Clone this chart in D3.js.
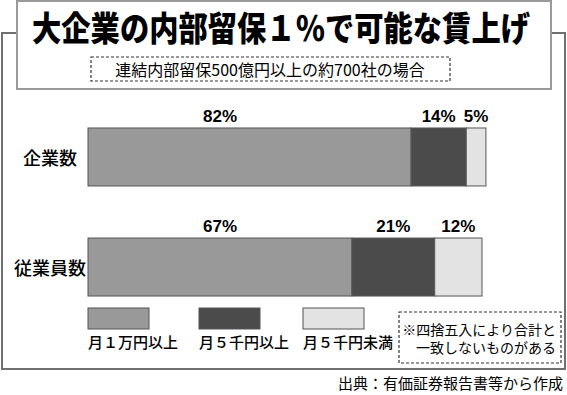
<!DOCTYPE html>
<html>
<head>
<meta charset="utf-8">
<script src="https://cdn.jsdelivr.net/npm/d3@7"></script>
<style>
  body { margin: 0; background: #fff; }
  svg { display: block; }
</style>
</head>
<body>
<svg width="567" height="395"></svg>
<script>
  // data
  var categories = ["企業数", "従業員数"];
  var seriesNames = ["月１万円以上", "月５千円以上", "月５千円未満"];
  var over10k = [82, 67];
  var over5k = [14, 21];
  var under5k = [5, 12];

  var title = "大企業の内部留保１％で可能な賃上げ";
  var subtitle = "連結内部留保500億円以上の約700社の場合";
  var noteLines = ["※四捨五入により合計と", "一致しないものがある"];
  var source = "出典：有価証券報告書等から作成";

  var colors = ["#999999", "#4b4b4b", "#e3e3e3"];
  var jp = "'Noto Sans CJK JP', 'Noto Sans', sans-serif";

  var svg = d3.select("svg");

  var rows = categories.map(function (c, i) {
    return { cat: c, vals: [over10k[i], over5k[i], under5k[i]] };
  });

  var x = d3.scaleLinear().domain([0, 100]).range([88, 482]);
  var y = d3
    .scaleBand()
    .domain(categories)
    .range([102, 322])
    .paddingInner(0.473)
    .paddingOuter(0.236);

  // outer frame
  svg
    .append("rect")
    .attr("x", 2)
    .attr("y", 33)
    .attr("width", 563)
    .attr("height", 336)
    .attr("fill", "none")
    .attr("stroke", "#707070")
    .attr("stroke-width", 2);

  // title box
  svg
    .append("rect")
    .attr("x", 17)
    .attr("y", 1)
    .attr("width", 534)
    .attr("height", 88)
    .attr("fill", "#fff")
    .attr("stroke", "#9a9a9a")
    .attr("stroke-width", 2);

  svg
    .append("text")
    .attr("x", 32)
    .attr("y", 41)
    .attr("textLength", 498)
    .attr("lengthAdjust", "spacingAndGlyphs")
    .style("font-family", jp)
    .style("font-weight", 900)
    .style("font-size", "34px")
    .text(title);

  svg
    .append("rect")
    .attr("x", 91)
    .attr("y", 57)
    .attr("width", 359)
    .attr("height", 24)
    .attr("fill", "none")
    .attr("stroke", "#333")
    .attr("stroke-width", 1.2)
    .attr("stroke-dasharray", "3,2");

  svg
    .append("text")
    .attr("x", 270)
    .attr("y", 76)
    .attr("text-anchor", "middle")
    .style("font-family", jp)
    .style("font-size", "16px")
    .text(subtitle);

  // bars
  var row = svg
    .append("g")
    .selectAll("g")
    .data(rows)
    .enter()
    .append("g")
    .attr("transform", function (d) {
      return "translate(0," + y(d.cat) + ")";
    });

  row.each(function (d) {
    var acc = 0;
    d.segs = d.vals.map(function (v, k) {
      var s = { start: acc, v: v, k: k };
      acc += v;
      return s;
    });
  });

  row
    .selectAll("rect")
    .data(function (d) {
      return d.segs;
    })
    .enter()
    .append("rect")
    .attr("x", function (s) {
      return x(s.start);
    })
    .attr("y", 0)
    .attr("width", function (s) {
      return x(s.start + s.v) - x(s.start);
    })
    .attr("height", y.bandwidth())
    .attr("fill", function (s) {
      return colors[s.k];
    })
    .attr("stroke", "#555")
    .attr("stroke-width", 1);

  var firstLabelX = x(d3.min(over10k) / 2);

  row
    .selectAll("text.pct")
    .data(function (d) {
      return d.segs;
    })
    .enter()
    .append("text")
    .attr("class", "pct")
    .attr("x", function (s) {
      return s.k === 0 ? firstLabelX : x(s.start + s.v / 2);
    })
    .attr("y", -6)
    .attr("text-anchor", "middle")
    .style("font-family", "'Liberation Sans', Arial, sans-serif")
    .style("font-weight", "bold")
    .style("font-size", "17px")
    .text(function (s) {
      return s.v + "%";
    });

  row
    .append("text")
    .attr("x", 50)
    .attr("y", y.bandwidth() / 2 + 8)
    .attr("text-anchor", "middle")
    .style("font-family", jp)
    .style("font-weight", 500)
    .style("font-size", "18px")
    .text(function (d) {
      return d.cat;
    });

  // legend
  var legendX = [88, 199, 303];
  var legend = svg
    .append("g")
    .selectAll("g")
    .data(seriesNames)
    .enter()
    .append("g")
    .attr("transform", function (d, i) {
      return "translate(" + legendX[i] + ",308)";
    });

  legend
    .append("rect")
    .attr("width", 61)
    .attr("height", 21)
    .attr("fill", function (d, i) {
      return colors[i];
    })
    .attr("stroke", "#555")
    .attr("stroke-width", 1);

  legend
    .append("text")
    .attr("x", 0)
    .attr("y", 40)
    .style("font-family", jp)
    .style("font-size", "15px")
    .style("font-weight", 500)
    .text(function (d) {
      return d;
    });

  // note
  svg
    .append("rect")
    .attr("x", 399)
    .attr("y", 312)
    .attr("width", 162)
    .attr("height", 51)
    .attr("fill", "none")
    .attr("stroke", "#333")
    .attr("stroke-width", 1.2)
    .attr("stroke-dasharray", "3,2");

  svg
    .append("g")
    .selectAll("text")
    .data(noteLines)
    .enter()
    .append("text")
    .attr("x", 556)
    .attr("y", function (d, i) {
      return 335 + i * 18;
    })
    .attr("text-anchor", "end")
    .style("font-family", jp)
    .style("font-size", "14px")
    .text(function (d) {
      return d;
    });

  svg
    .append("text")
    .attr("x", 563)
    .attr("y", 389)
    .attr("text-anchor", "end")
    .style("font-family", jp)
    .style("font-size", "15px")
    .text(source);
</script>
</body>
</html>
